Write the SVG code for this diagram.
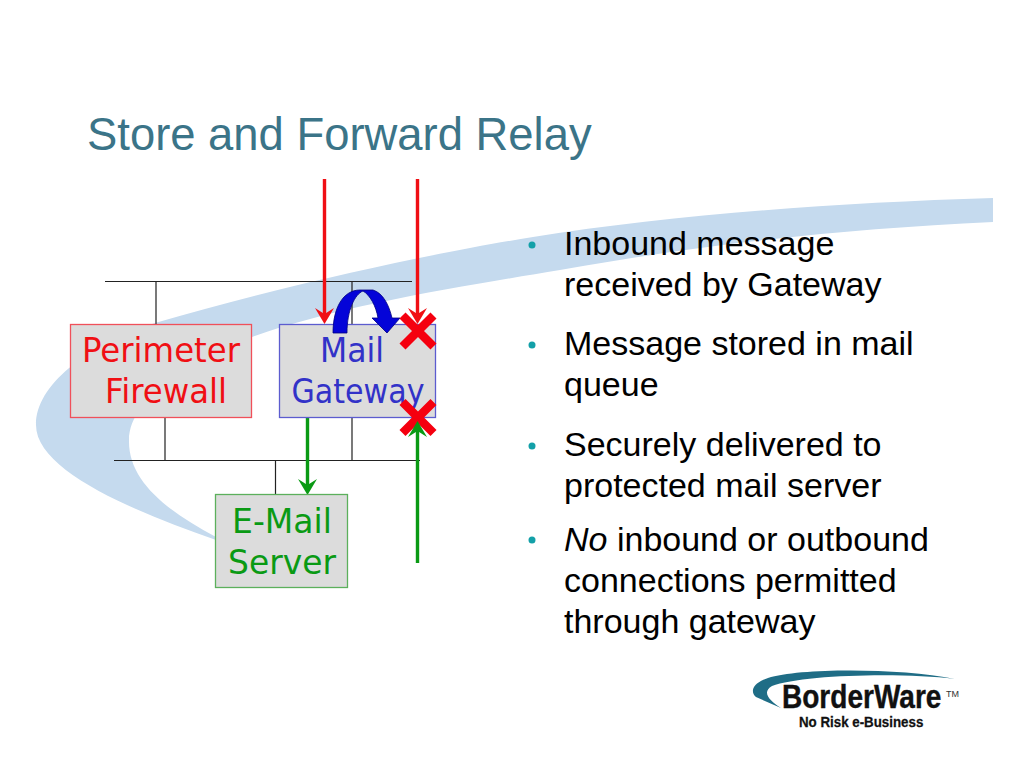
<svg xmlns="http://www.w3.org/2000/svg" width="1024" height="768" viewBox="0 0 1024 768">
<style>
.bg{fill:#c5daee}
.box{fill:#dcdcdc;stroke-width:1.3}
.lbl{font-family:"DejaVu Sans",sans-serif;font-size:33px}
.bul{font-family:"Liberation Sans",Arial,sans-serif;font-size:34px;fill:#000}
.dot{fill:#13a0a8}
.net{stroke:#222;stroke-width:1.2;fill:none}
.red{stroke:#f00f14;stroke-width:3.4;fill:none}
.grn{stroke:#0a9a14;stroke-width:3.4;fill:none}
.x{stroke:#f5000f;stroke-width:8.500;fill:none}
.logo{font-family:"Liberation Sans",Arial,sans-serif;font-weight:bold;fill:#111}
</style>
<rect width="1024" height="768" fill="#fff"/>
<path class="bg" d="M993 198C830 203 670 215 533 237C440 252 300 281 155 323C85 347 36 385 36 425C36 470 130 510 216 540L216 537C165 510 128 480 129 440C130 395 195 360 252 337C340 305 470 285 560 270C700 245 840 229 993 222Z"/>
<g id="title"><text x="87" y="150" font-family="'Liberation Sans',Arial,sans-serif" font-size="45.400" fill="#3b7488">Store and Forward Relay</text></g>
<g id="connectors">
<path class="net" d="M105 281.500H412M114 460.500H420M156 281V324M352 281V324M165 417V461M352 417V461M275.500 461V495"/>
<path class="red" d="M324.500 179V320"/>
<path d="M315 308L324.500 324L334 308L324.500 314Z" fill="#f00f14"/>
<path class="red" d="M417.500 179V320"/>
<path d="M408 308L417.500 324L427 308L417.500 314Z" fill="#f00f14"/>
<path class="grn" d="M307.500 418V490"/>
<path d="M298 479L307.500 495L317 479L307.500 485Z" fill="#0a9a14"/>
</g>
<g id="perimeter-firewall"><rect class="box" x="70.500" y="324.500" width="181" height="93" stroke="#f0505a"/>
<text class="lbl" fill="#f00f14" x="161" y="362" text-anchor="middle" textLength="158" lengthAdjust="spacingAndGlyphs">Perimeter</text>
<text class="lbl" fill="#f00f14" x="166" y="403" text-anchor="middle" textLength="122" lengthAdjust="spacingAndGlyphs">Firewall</text></g>
<g id="mail-gateway"><rect class="box" x="279.500" y="324.500" width="156" height="93" stroke="#5c5ccf"/>
<text class="lbl" fill="#3232c8" x="352" y="362" text-anchor="middle" textLength="64" lengthAdjust="spacingAndGlyphs">Mail</text>
<text class="lbl" fill="#3232c8" x="358" y="403" text-anchor="middle" textLength="133" lengthAdjust="spacingAndGlyphs">Gateway</text></g>
<g id="email-server"><rect class="box" x="215.500" y="494.500" width="132" height="93" stroke="#5cb05c"/>
<text class="lbl" fill="#0a9a14" x="282" y="533" text-anchor="middle" textLength="100" lengthAdjust="spacingAndGlyphs">E-Mail</text>
<text class="lbl" fill="#0a9a14" x="282" y="574" text-anchor="middle" textLength="108" lengthAdjust="spacingAndGlyphs">Server</text></g>
<g id="marks">
<path d="M333 333C333 308 343 290 360 290L373 290C383 293 389 305 392 318L400 318L387 333L372 318L378 318C376 306 370 295 363 291C355 294 347 310 347 333Z" fill="#0404d8" stroke="#000080" stroke-width=".8"/>
<path class="x" d="M402.500 315.500L433.500 346.500M433.500 315.500L402.500 346.500M402.500 402L433.500 433M433.500 402L402.500 433"/>
<path class="grn" d="M417.500 563V428"/>
<path d="M408 437L417.500 421L427 437L417.500 431Z" fill="#0a9a14"/>
</g>
<g id="bullets">
<circle class="dot" cx="532" cy="245" r="3.500"/><circle class="dot" cx="532" cy="345" r="3.500"/><circle class="dot" cx="532" cy="446" r="3.500"/><circle class="dot" cx="532" cy="540" r="3.500"/>
<text class="bul" x="564" y="255">Inbound message</text>
<text class="bul" x="564" y="296">received by Gateway</text>
<text class="bul" x="564" y="355">Message stored in mail</text>
<text class="bul" x="564" y="396">queue</text>
<text class="bul" x="564" y="456">Securely delivered to</text>
<text class="bul" x="564" y="497">protected mail server</text>
<text class="bul" x="564" y="551"><tspan font-style="italic">No</tspan> inbound or outbound</text>
<text class="bul" x="564" y="592">connections permitted</text>
<text class="bul" x="564" y="633">through gateway</text>
</g>
<g id="logo">
<path d="M955 679C900 668 800 668 768 678C752 683 750 692 756 697L781 708C768 700 762 692 772 686C800 675 900 672 955 679Z" fill="#1f6d86"/>
<text class="logo" transform="translate(782 708) scale(.85 1)" font-size="33" stroke="#111" stroke-width=".4">BorderWare</text>
<text x="946" y="697" font-family="'Liberation Sans',Arial,sans-serif" font-size="9" fill="#333">TM</text>
<text class="logo" transform="translate(799 727) scale(.86 1)" font-size="15.500" stroke="#111" stroke-width=".3">No Risk e-Business</text>
</g>
</svg>
